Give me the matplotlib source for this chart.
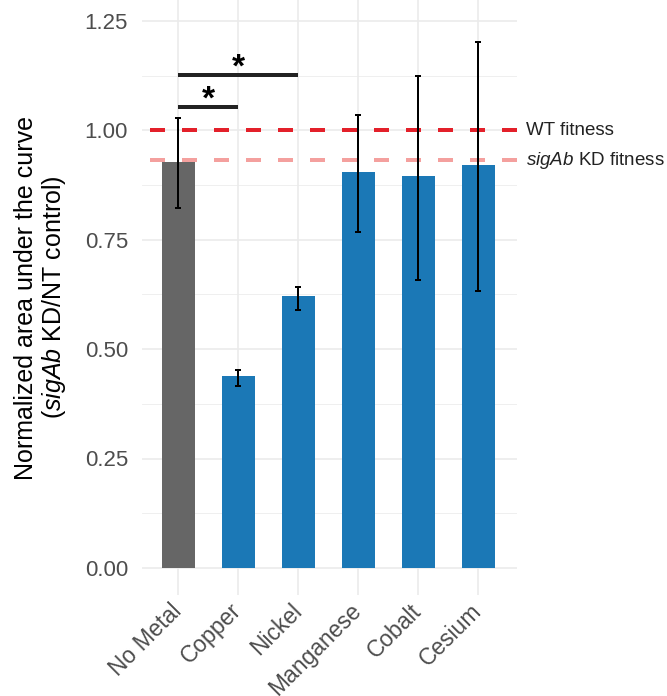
import numpy as np
import matplotlib
matplotlib.use("Agg")
from matplotlib import pyplot as plt
from matplotlib import transforms

#==============================================================#
# データ
metals   = ["No Metal", "Copper", "Nickel", "Manganese", "Cobalt", "Cesium"]
auc_mean = [0.928, 0.439, 0.622, 0.905, 0.896, 0.921]
auc_low  = [0.823, 0.416, 0.590, 0.768, 0.658, 0.633]
auc_high = [1.028, 0.452, 0.642, 1.035, 1.124, 1.202]

wt_fitness = 1.00
kd_fitness = 0.932

# 有意差 (比較1, 比較2, 高さ)
sig_pairs = [("No Metal", "Copper", 1.053), ("No Metal", "Nickel", 1.127)]

#==============================================================#
plt.rcParams['font.family'] = ['Liberation Sans', 'DejaVu Sans']
plt.rcParams['mathtext.fontset'] = 'custom'
plt.rcParams['mathtext.rm'] = 'Liberation Sans'
plt.rcParams['mathtext.it'] = 'Liberation Sans:italic'
plt.rcParams['lines.scale_dashes'] = False

grid_col = "#EBEBEB"
txt_col  = "#4D4D4D"

fig = plt.figure(figsize=(6.67, 6.96), dpi=100)
ax = fig.add_axes([142 / 667, 101 / 696, 375 / 667, 595 / 696])

x = np.arange(1, len(metals) + 1)
colors = ["#666666"] + ["#1B78B6"] * (len(metals) - 1)

ax.bar(x, auc_mean, width=0.55, color=colors, zorder=2)

# 基準線
px = 72 / 100
ax.axhline(wt_fitness, color="#E3202A", lw=4 * px,
           linestyle=(24 * px, (15 * px, 17 * px)), zorder=3)
ax.axhline(kd_fitness, color="#F4A09E", lw=4 * px,
           linestyle=(24 * px, (15 * px, 17 * px)), zorder=3)

# エラーバー
mean = np.array(auc_mean)
yerr = [mean - np.array(auc_low), np.array(auc_high) - mean]
ax.errorbar(x, mean, yerr=yerr, fmt="none", ecolor="black",
            elinewidth=2 * px, capsize=2.2, capthick=2 * px, zorder=4)

# 有意差ブラケット
for a, b, h in sig_pairs:
    xa = metals.index(a) + 1
    xb = metals.index(b) + 1
    ax.plot([xa, xb], [h, h], color="#222222", lw=4 * px,
            solid_capstyle="butt", zorder=4)
    ax.text((xa + xb) / 2, h - 0.003, "*", ha="center", va="baseline",
            fontsize=24, fontweight="bold", color="black")

# 右側ラベル
ax.text(6.8, wt_fitness, "WT fitness", ha="left", va="center",
        fontsize=13.5, color="#222222", clip_on=False)
ax.text(6.8, kd_fitness, r"$\it{sigAb}$ KD fitness", ha="left", va="center",
        fontsize=13.5, color="#222222", clip_on=False)

# 軸
ax.set_xlim(0.4, 6.65)
ax.set_ylim(-0.062, 1.298)
ax.set_yticks([0, 0.25, 0.5, 0.75, 1.0, 1.25])
ax.set_yticklabels(["0.00", "0.25", "0.50", "0.75", "1.00", "1.25"])
ax.set_yticks([0.125, 0.375, 0.625, 0.875, 1.125], minor=True)
ax.set_xticks(x)
ax.set_xticklabels(metals, rotation=45, ha="right", rotation_mode="anchor")

ax.tick_params(axis="both", length=0, labelsize=16, labelcolor=txt_col)
ax.tick_params(axis="x", labelsize=16.5)
ax.tick_params(axis="y", which="minor", length=0)
ax.tick_params(axis="y", pad=10)
ax.tick_params(axis="x", pad=3)

# ラベルを少し左へ
shift = transforms.ScaledTranslation(-8 / 100, 0, fig.dpi_scale_trans)
for lab in ax.get_xticklabels():
    lab.set_transform(lab.get_transform() + shift)

ax.grid(True, which="major", color=grid_col, lw=1.6 * px, zorder=0)
ax.grid(True, which="minor", axis="y", color=grid_col, lw=0.8 * px, zorder=0)
ax.set_axisbelow(True)
for s in ax.spines.values():
    s.set_visible(False)

ax.set_ylabel("Normalized area under the curve\n" r"($\it{sigAb}$ KD/NT control)",
              fontsize=18, color="black", labelpad=12, linespacing=1.1)

fig.savefig("out.png", dpi=100)
